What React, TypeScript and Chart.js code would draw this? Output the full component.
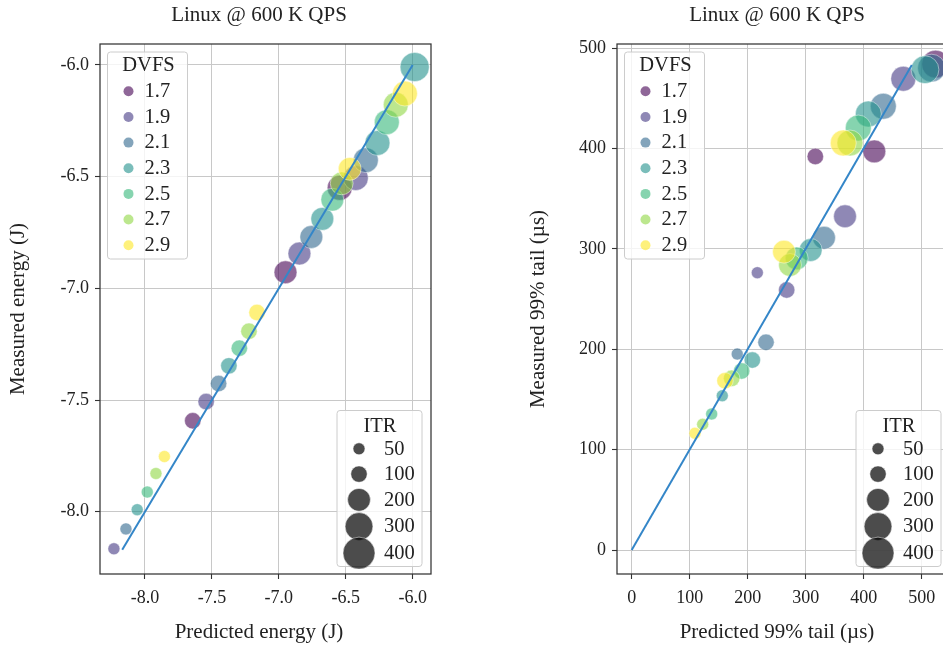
import React, { useEffect, useRef } from 'react';
import { Chart, registerables } from 'chart.js';

Chart.register(...registerables);

// ---------------- data ----------------
const DVFS_LEVELS = [1.7, 1.9, 2.1, 2.3, 2.5, 2.7, 2.9];
const DVFS_COLORS = ['#440154', '#443983', '#31688e', '#21918c', '#35b779', '#90d743', '#fde725'];
const ITR_LEGEND = [50, 100, 200, 300, 400];

// Left panel: energy
const energyPredicted = [
  -7.643, -6.95, -6.545,
  -8.232, -7.543, -6.846, -6.425,
  -8.142, -7.45, -6.757, -6.35,
  -8.058, -7.373, -6.675, -6.263, -5.985,
  -7.983, -7.295, -6.6, -6.193,
  -7.918, -7.223, -6.53, -6.126,
  -7.855, -7.163, -6.47, -6.058,
];
const energyMeasured = [
  -7.593, -6.928, -6.55,
  -8.166, -7.507, -6.844, -6.506,
  -8.077, -7.426, -6.77, -6.426,
  -7.991, -7.347, -6.689, -6.349, -6.009,
  -7.912, -7.268, -6.603, -6.256,
  -7.829, -7.192, -6.53, -6.178,
  -7.753, -7.108, -6.465, -6.128,
];
const energyDvfs = [
  1.7, 1.7, 1.7,
  1.9, 1.9, 1.9, 1.9,
  2.1, 2.1, 2.1, 2.1,
  2.3, 2.3, 2.3, 2.3, 2.3,
  2.5, 2.5, 2.5, 2.5,
  2.7, 2.7, 2.7, 2.7,
  2.9, 2.9, 2.9, 2.9,
];
const energyItr = [
  100, 200, 240,
  50, 100, 200, 240,
  50, 100, 200, 240,
  50, 100, 200, 240, 330,
  50, 100, 200, 240,
  50, 100, 200, 240,
  50, 100, 200, 240,
];
const energyFitX = [-8.17, -6.0];
const energyFitY = [-8.17, -6.0];
const energyXTicks = [-8.0, -7.5, -7.0, -6.5, -6.0];
const energyYTicks = [-8.0, -7.5, -7.0, -6.5, -6.0];

// Right panel: 99% tail latency
const tailPredicted = [
  316.6, 418.3, 524,
  216.6, 267.2, 367.8, 468.3,
  182, 231.6, 331.6, 433.8, 517,
  156.2, 208, 308.6, 408, 505.7,
  137.9, 189.6, 284.5, 390.7,
  122.4, 172.4, 273, 376.4,
  109.1, 160.9, 262.6, 364.8,
];
const tailMeasured = [
  392, 397, 484,
  276.2, 259, 332.4, 469.4,
  195.2, 206.9, 311, 442, 480,
  153.7, 189.2, 298.8, 434.3, 478.4,
  135.5, 178.3, 290.5, 420.3,
  125.2, 171, 283.9, 405.4,
  116.2, 168.6, 297.1, 405.4,
];
const tailDvfs = [
  1.7, 1.7, 1.7,
  1.9, 1.9, 1.9, 1.9,
  2.1, 2.1, 2.1, 2.1, 2.1,
  2.3, 2.3, 2.3, 2.3, 2.3,
  2.5, 2.5, 2.5, 2.5,
  2.7, 2.7, 2.7, 2.7,
  2.9, 2.9, 2.9, 2.9,
];
const tailItr = [
  100, 200, 300,
  50, 100, 200, 240,
  50, 100, 200, 260, 300,
  50, 100, 200, 260, 300,
  50, 100, 200, 260,
  50, 100, 200, 260,
  50, 100, 200, 260,
];
const tailFitX = [0, 483];
const tailFitY = [0, 483];
const tailXTicks = [0, 100, 200, 300, 400, 500];
const tailYTicks = [0, 100, 200, 300, 400, 500];

// ---------------- style ----------------
const FONT = '"Liberation Serif", "Times New Roman", Times, serif';
const TEXT = '#222222';
const ALPHA = 0.6;

function rgba(hex: string, a: number) {
  const n = parseInt(hex.slice(1), 16);
  return `rgba(${(n >> 16) & 255},${(n >> 8) & 255},${n & 255},${a})`;
}
function sizeOf(itr: number) {
  return Math.sqrt(4.6 + 0.629 * itr);
}
function colorOf(d: number) {
  return rgba(DVFS_COLORS[DVFS_LEVELS.indexOf(d)], ALPHA);
}

type PanelCfg = {
  xs: number[]; ys: number[]; dvfs: number[]; itr: number[];
  fitX: number[]; fitY: number[];
  xTicks: number[]; yTicks: number[]; decimals: number;
  xMin: number; xMax: number; yMin: number; yMax: number;
  title: string; xTitle: string; yTitle: string;
  canvasLeft: number; canvasWidth: number;
  area: { left: number; right: number; top: number; bottom: number };
  centerX: number; yTitleX: number;
};

function roundRect(ctx: CanvasRenderingContext2D, x: number, y: number, w: number, h: number, r: number) {
  ctx.beginPath();
  ctx.moveTo(x + r, y);
  ctx.lineTo(x + w - r, y);
  ctx.arcTo(x + w, y, x + w, y + r, r);
  ctx.lineTo(x + w, y + h - r);
  ctx.arcTo(x + w, y + h, x + w - r, y + h, r);
  ctx.lineTo(x + r, y + h);
  ctx.arcTo(x, y + h, x, y + h - r, r);
  ctx.lineTo(x, y + r);
  ctx.arcTo(x, y, x + r, y, r);
  ctx.closePath();
}

function Panel({ cfg }: { cfg: PanelCfg }) {
  const ref = useRef<HTMLCanvasElement | null>(null);
  useEffect(() => {
    if (!ref.current) return;
    const H = 648;
    const font = { family: FONT, size: 18 };
    const decor = {
      id: 'decor',
      afterDatasetsDraw(chart: any) {
        const { ctx, chartArea: a } = chart;
        ctx.save();
        ctx.strokeStyle = '#333333';
        ctx.lineWidth = 1.25;
        ctx.strokeRect(a.left, a.top, a.right - a.left, a.bottom - a.top);
        ctx.restore();
      },
      afterDraw(chart: any) {
        const { ctx, chartArea: a } = chart;
        const cx = cfg.centerX - cfg.canvasLeft;
        ctx.save();
        ctx.fillStyle = TEXT;
        ctx.textAlign = 'center';
        ctx.textBaseline = 'middle';
        ctx.font = `21px ${FONT}`;
        ctx.fillText(cfg.title, cx, 15);
        ctx.fillText(cfg.xTitle, cx, 632);
        ctx.save();
        ctx.translate(cfg.yTitleX - cfg.canvasLeft, (a.top + a.bottom) / 2);
        ctx.rotate(-Math.PI / 2);
        ctx.fillText(cfg.yTitle, 0, 0);
        ctx.restore();

        // DVFS legend (upper left)
        const bx = a.left + 7.5, by = a.top + 8, bw = 80, bh = 207;
        ctx.fillStyle = 'rgba(255,255,255,0.8)';
        ctx.strokeStyle = '#cccccc';
        ctx.lineWidth = 1;
        roundRect(ctx, bx, by, bw, bh, 3);
        ctx.fill();
        ctx.stroke();
        ctx.font = `20.5px ${FONT}`;
        ctx.fillStyle = TEXT;
        ctx.textAlign = 'center';
        ctx.fillText('DVFS', bx + bw / 2 + 1, by + 14);
        DVFS_LEVELS.forEach((d, i) => {
          const y = by + 39.3 + i * 25.65;
          ctx.beginPath();
          ctx.arc(bx + 21, y, 5, 0, Math.PI * 2);
          ctx.fillStyle = colorOf(d);
          ctx.fill();
          ctx.fillStyle = TEXT;
          ctx.textAlign = 'left';
          ctx.fillText(d.toFixed(1), bx + 37, y + 0.5);
        });

        // ITR legend (lower right)
        const iw = 85, ih = 156;
        const ix = a.right - 9 - iw, iy = a.bottom - 7.5 - ih;
        ctx.fillStyle = 'rgba(255,255,255,0.8)';
        ctx.strokeStyle = '#cccccc';
        roundRect(ctx, ix, iy, iw, ih, 3);
        ctx.fill();
        ctx.stroke();
        ctx.fillStyle = TEXT;
        ctx.textAlign = 'center';
        ctx.fillText('ITR', ix + 43, iy + 16.5);
        const offs = [38.3, 63.6, 89.3, 116, 142.6];
        ITR_LEGEND.forEach((v, i) => {
          const y = iy + offs[i];
          ctx.beginPath();
          ctx.arc(ix + 22, y, sizeOf(v), 0, Math.PI * 2);
          ctx.fillStyle = 'rgba(0,0,0,0.7)';
          ctx.fill();
          ctx.strokeStyle = 'rgba(255,255,255,0.7)';
          ctx.lineWidth = 0.75;
          ctx.stroke();
          ctx.fillStyle = TEXT;
          ctx.textAlign = 'left';
          ctx.fillText(String(v), ix + 47, y + 0.5);
        });
        ctx.restore();
      },
    };

    const points = cfg.xs.map((x, i) => ({ x, y: cfg.ys[i] }));
    const line = cfg.fitX.map((x, i) => ({ x, y: cfg.fitY[i] }));
    const yAxisWidth = cfg.area.left - cfg.canvasLeft;
    const xAxisHeight = H - cfg.area.bottom;

    const chart = new Chart(ref.current, {
      type: 'scatter',
      data: {
        datasets: [
          {
            data: line,
            showLine: true,
            borderColor: '#3486c8',
            borderWidth: 2,
            pointRadius: 0,
            order: 0,
          } as any,
          {
            data: points,
            pointRadius: cfg.itr.map(sizeOf),
            pointBackgroundColor: cfg.dvfs.map(colorOf),
            pointBorderColor: 'rgba(255,255,255,0.6)',
            pointBorderWidth: 0.75,
            order: 1,
          } as any,
        ],
      },
      options: {
        animation: false,
        responsive: false,
        events: [],
        layout: {
          padding: {
            left: 0,
            top: cfg.area.top,
            right: cfg.canvasLeft + cfg.canvasWidth - cfg.area.right,
            bottom: 0,
          },
        },
        plugins: { legend: { display: false }, tooltip: { enabled: false }, title: { display: false } },
        scales: {
          x: {
            type: 'linear',
            min: cfg.xMin,
            max: cfg.xMax,
            afterBuildTicks: (axis: any) => { axis.ticks = cfg.xTicks.map((v) => ({ value: v })); },
            afterFit: (axis: any) => { axis.height = xAxisHeight; },
            ticks: {
              autoSkip: false, maxRotation: 0, padding: 8, color: TEXT, font,
              callback: (v: any) => Number(v).toFixed(cfg.decimals),
            },
            grid: { color: '#c8c8c8', lineWidth: 1, tickLength: 5, tickColor: '#333333', tickWidth: 1.1 },
            border: { display: false },
          },
          y: {
            type: 'linear',
            min: cfg.yMin,
            max: cfg.yMax,
            afterBuildTicks: (axis: any) => { axis.ticks = cfg.yTicks.map((v) => ({ value: v })); },
            afterFit: (axis: any) => { axis.width = yAxisWidth; },
            ticks: {
              autoSkip: false, padding: 6, color: TEXT, font,
              callback: (v: any) => Number(v).toFixed(cfg.decimals),
            },
            grid: { color: '#c8c8c8', lineWidth: 1, tickLength: 5, tickColor: '#333333', tickWidth: 1.1 },
            border: { display: false },
          },
        },
      } as any,
      plugins: [decor as any],
    });
    return () => chart.destroy();
  }, [cfg]);

  return (
    <canvas
      ref={ref}
      width={cfg.canvasWidth}
      height={648}
      style={{ position: 'absolute', left: cfg.canvasLeft, top: 0, width: cfg.canvasWidth, height: 648 }}
    />
  );
}

const LEFT: PanelCfg = {
  xs: energyPredicted, ys: energyMeasured, dvfs: energyDvfs, itr: energyItr,
  fitX: energyFitX, fitY: energyFitY,
  xTicks: energyXTicks, yTicks: energyYTicks, decimals: 1,
  xMin: -8.336, xMax: -5.863, yMin: -8.279, yMax: -5.906,
  title: 'Linux @ 600 K QPS', xTitle: 'Predicted energy (J)', yTitle: 'Measured energy (J)',
  canvasLeft: 0, canvasWidth: 470,
  area: { left: 100, right: 431, top: 44, bottom: 574 },
  centerX: 259, yTitleX: 18,
};

const RIGHT: PanelCfg = {
  xs: tailPredicted, ys: tailMeasured, dvfs: tailDvfs, itr: tailItr,
  fitX: tailFitX, fitY: tailFitY,
  xTicks: tailXTicks, yTicks: tailYTicks, decimals: 0,
  xMin: -25.3, xMax: 548.8, yMin: -23.9, yMax: 504,
  title: 'Linux @ 600 K QPS', xTitle: 'Predicted 99% tail (µs)', yTitle: 'Measured 99% tail (µs)',
  canvasLeft: 470, canvasWidth: 500,
  area: { left: 617, right: 950, top: 44, bottom: 574 },
  centerX: 777, yTitleX: 538,
};

export default function App() {
  return (
    <div style={{ position: 'absolute', left: 0, top: 0, width: 943, height: 648, overflow: 'hidden', background: '#fff' }}>
      <Panel cfg={LEFT} />
      <Panel cfg={RIGHT} />
    </div>
  );
}
